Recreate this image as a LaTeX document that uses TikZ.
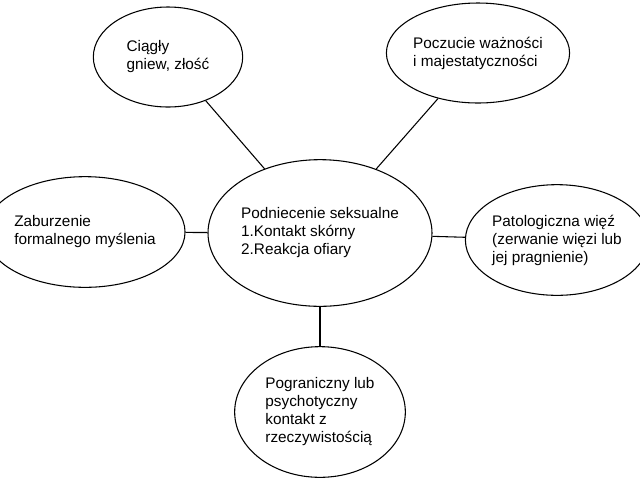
\documentclass[tikz,border=0pt]{standalone}
\usepackage{fontspec}
\setmainfont{Liberation Sans}
\usetikzlibrary{shapes.geometric}
\tikzset{
    bubble/.style={draw, thick, ellipse, align=left, inner sep=0pt, font=\fontsize{11.5}{13.5}\selectfont},
    link/.style={thick}
}
\begin{document}
\begin{tikzpicture}[x=0.75pt, y=-0.75pt]
    \useasboundingbox (0,0) rectangle (640,480);
    \node[bubble, minimum width=168pt, minimum height=110pt] (center) at (320,233) {Podniecenie seksualne\\1.Kontakt skórny\\2.Reakcja ofiary};
    \node[bubble, minimum width=112pt, minimum height=75pt] (anger) at (168,57) {Ciągły\\gniew, złość};
    \node[bubble, minimum width=128pt, minimum height=75pt] (majesty) at (478,53) {Poczucie ważności\\i majestatyczności};
    \node[bubble, minimum width=128pt, minimum height=83pt] (thought) at (85,232) {Zaburzenie\\formalnego myślenia};
    \node[bubble, minimum width=123pt, minimum height=83pt] (bond) at (557,240) {Patologiczna więź\\(zerwanie więzi lub\\jej pragnienie)};
    \node[bubble, minimum width=128pt, minimum height=98pt] (reality) at (320,412) {Pograniczny lub\\psychotyczny\\kontakt z\\rzeczywistością};

    \draw[link] (anger) -- (center);
    \draw[link] (majesty) -- (center);
    \draw[link] (thought) -- (center);
    \draw[link] (bond) -- (center);
    \draw[link] (reality) -- (center);
\end{tikzpicture}
\end{document}
